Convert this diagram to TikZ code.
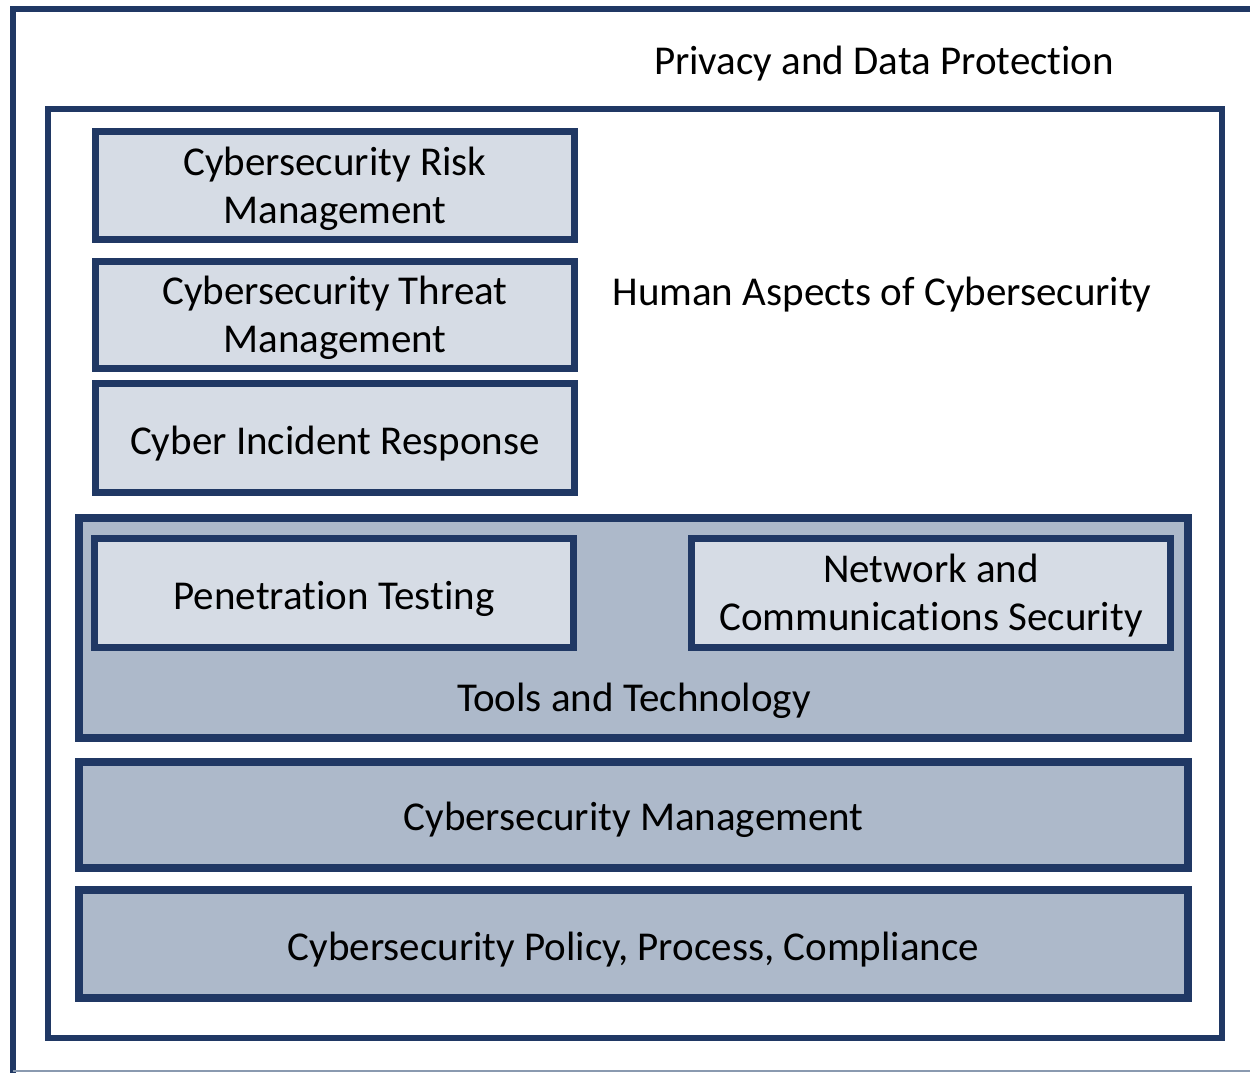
\documentclass[tikz,border=0pt]{standalone}
\usepackage{fontspec}
\setmainfont{Carlito}[Ligatures=NoCommon]
\definecolor{navy}{HTML}{203864}
\definecolor{lightfill}{HTML}{D6DCE5}
\definecolor{midfill}{HTML}{ADB9CA}
\definecolor{edgegray}{HTML}{8A9AB0}
\begin{document}
\begin{tikzpicture}[x=1pt,y=-1pt,
  every node/.style={font=\fontsize{41}{48}\selectfont, text=black, align=center, inner sep=0pt},
  lightbox/.style={draw=navy, line width=7pt, fill=lightfill},
  midbox/.style={draw=navy, line width=8pt, fill=midfill},
  frame/.style={draw=navy, line width=6pt},
  label/.style={}]
\useasboundingbox (0,0) rectangle (1250,1073);
% outer frame
\draw[navy, line width=6pt] (13,1073) -- (13,9) -- (1252,9);
\draw[edgegray, line width=1.5pt] (13,1071) -- (1250,1071);
\node[label] (privacy) at (884,64) {Privacy and Data Protection};
% inner frame
\node[frame, minimum width=1174pt, minimum height=929pt] (inner) at (635,573.5) {};
\node[label] (human) at (882,295) {Human Aspects of Cybersecurity};
% left stack
\node[lightbox, minimum width=479pt, minimum height=108pt] (risk) at (335,185.5) {};
\node[label] (risklabel) at ([yshift=-3pt]risk.center) {Cybersecurity Risk\\Management};
\node[lightbox, minimum width=479pt, minimum height=107pt] (threat) at (335,315) {};
\node[label] (threatlabel) at ([yshift=-3pt]threat.center) {Cybersecurity Threat\\Management};
\node[lightbox, minimum width=479pt, minimum height=109pt] (incident) at (335,438) {};
\node[label] (incidentlabel) at ([yshift=-6pt]incident.center) {Cyber Incident Response};
% tools
\node[midbox, minimum width=1109pt, minimum height=220pt] (tools) at (633.5,628) {};
\node[label] (toolslabel) at (634,701) {Tools and Technology};
\node[lightbox, minimum width=479pt, minimum height=109pt] (pen) at (334,593) {};
\node[label] (penlabel) at ([yshift=-6pt]pen.center) {Penetration Testing};
\node[lightbox, minimum width=479pt, minimum height=109pt] (network) at (931,593) {};
\node[label] (networklabel) at ([yshift=-3pt]network.center) {Network and\\Communications Security};
% lower bars
\node[midbox, minimum width=1109pt, minimum height=106pt] (mgmt) at (633.5,815) {};
\node[label] (mgmtlabel) at ([yshift=-5pt]mgmt.center) {Cybersecurity Management};
\node[midbox, minimum width=1109pt, minimum height=108pt] (policy) at (633.5,944) {};
\node[label] (policylabel) at ([yshift=-6pt]policy.center) {Cybersecurity Policy, Process, Compliance};
\end{tikzpicture}
\end{document}
